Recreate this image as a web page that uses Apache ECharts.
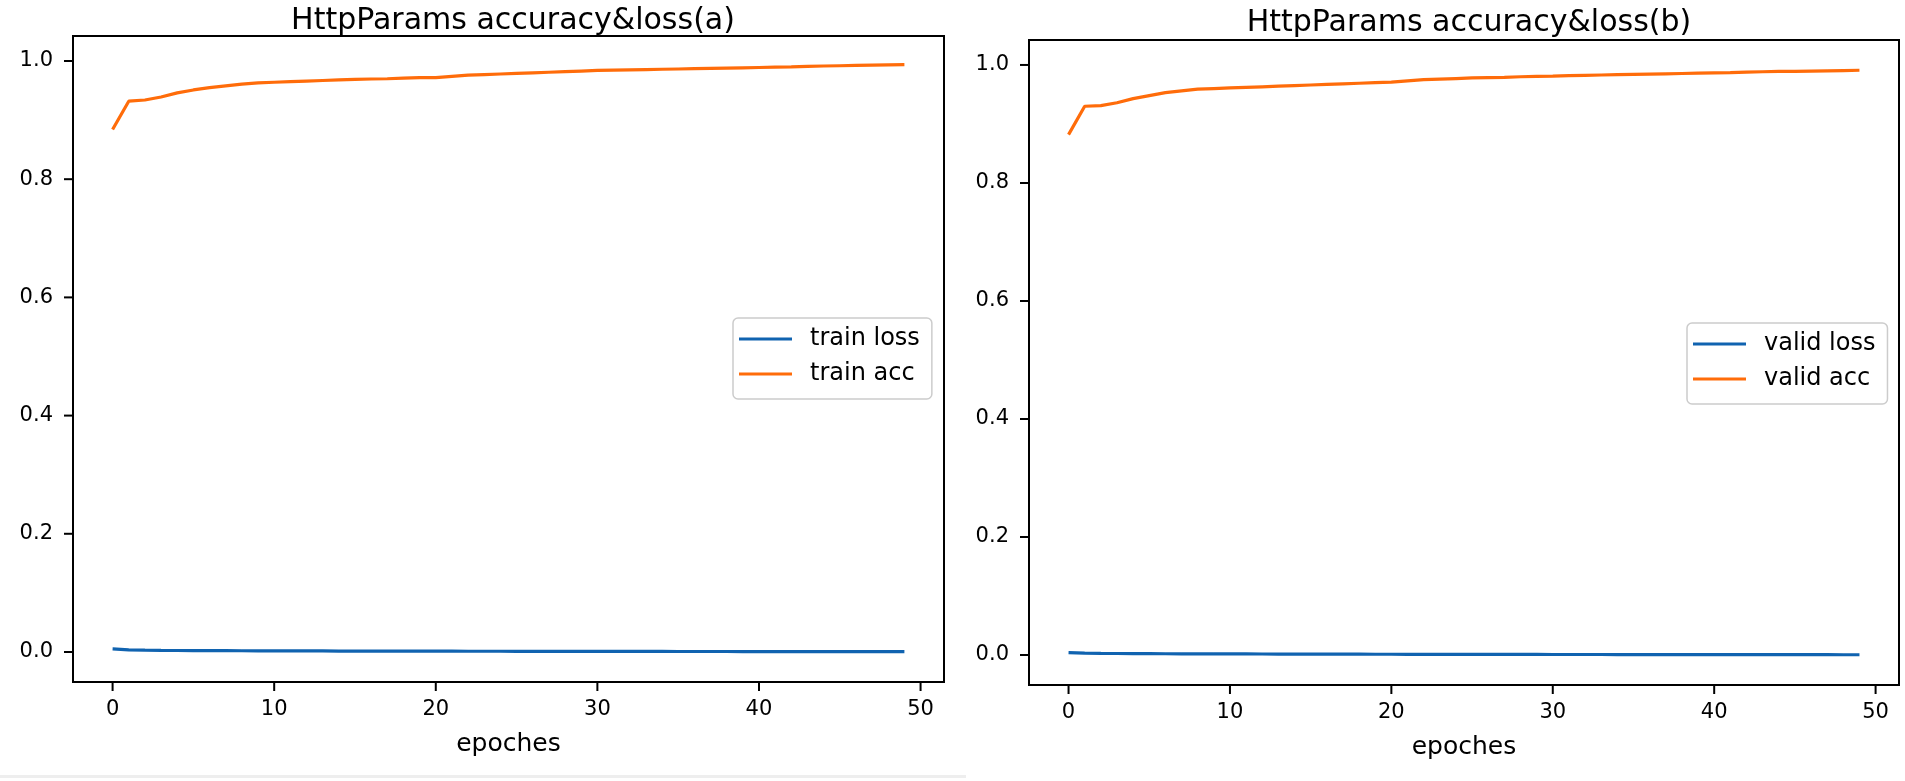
<!DOCTYPE html>
<html>
<head>
<meta charset="utf-8">
<script src="https://cdn.jsdelivr.net/npm/echarts@6/dist/echarts.min.js"></script>
<style>
html,body{margin:0;padding:0;background:#fff;}
#chart{width:1905px;height:781px;}
</style>
</head>
<body>
<div id="chart"></div>
<script>
const epochs = [0,1,2,3,4,5,6,7,8,9,10,11,12,13,14,15,16,17,18,19,20,21,22,23,24,25,26,27,28,29,30,31,32,33,34,35,36,37,38,39,40,41,42,43,44,45,46,47,48,49];
const xTicks = [0,10,20,30,40,50];
const yTicks = [0.0,0.2,0.4,0.6,0.8,1.0];

const trainLoss = [0.0052,0.0036,0.0030,0.0027,0.0025,0.0024,0.0023,0.0022,0.0021,0.0020,0.0019,0.0018,0.0018,0.0017,0.0016,0.0016,0.0015,0.0015,0.0014,0.0014,0.0013,0.0013,0.0012,0.0012,0.0012,0.0011,0.0011,0.0011,0.0010,0.0010,0.0010,0.0009,0.0009,0.0009,0.0009,0.0008,0.0008,0.0008,0.0008,0.0007,0.0007,0.0007,0.0007,0.0007,0.0006,0.0006,0.0006,0.0006,0.0006,0.0005];
const trainAcc = [0.884,0.932,0.934,0.939,0.946,0.951,0.955,0.958,0.961,0.963,0.964,0.965,0.966,0.967,0.968,0.969,0.9695,0.970,0.971,0.972,0.972,0.974,0.976,0.977,0.978,0.979,0.980,0.981,0.982,0.983,0.984,0.9845,0.985,0.9855,0.986,0.9865,0.987,0.9875,0.988,0.9885,0.989,0.9895,0.990,0.991,0.9915,0.992,0.9925,0.993,0.9935,0.994];
const validLoss = [0.0042,0.0032,0.0028,0.0026,0.0024,0.0023,0.0022,0.0021,0.0020,0.0019,0.0018,0.0018,0.0017,0.0016,0.0016,0.0015,0.0015,0.0014,0.0014,0.0013,0.0013,0.0012,0.0012,0.0012,0.0011,0.0011,0.0011,0.0010,0.0010,0.0010,0.0009,0.0009,0.0009,0.0009,0.0008,0.0008,0.0008,0.0008,0.0007,0.0007,0.0007,0.0007,0.0007,0.0006,0.0006,0.0006,0.0006,0.0006,0.0005,0.0005];
const validAcc = [0.882,0.930,0.931,0.936,0.943,0.948,0.953,0.956,0.959,0.960,0.961,0.962,0.963,0.964,0.965,0.966,0.967,0.968,0.969,0.970,0.971,0.973,0.975,0.976,0.977,0.978,0.9785,0.979,0.980,0.9805,0.981,0.982,0.9825,0.983,0.9835,0.984,0.9845,0.985,0.9855,0.986,0.9865,0.987,0.988,0.9885,0.989,0.989,0.9895,0.990,0.9905,0.991];

const titles = ['HttpParams accuracy&loss(a)', 'HttpParams accuracy&loss(b)'];
const xName = 'epoches';
const names = [['train loss','train acc'],['valid loss','valid acc']];

const FONT = 'DejaVu Sans';
const BLUE = '#1063b0';
const ORANGE = '#ff6c0a';
const TICK_LEN = 9;
const TICK_COLOR = '#000000';

const grids = [
  {left:73, top:36, width:871, height:646},
  {left:1029, top:40, width:870, height:645}
];

function pairs(arr){ return arr.map((v,i)=>[epochs[i], v]); }

function xAxis(i){
  return {
    type:'value', gridIndex:i, min:-2.45, max:51.45,
    name:xName, nameLocation:'middle', nameGap:50,
    nameTextStyle:{fontFamily:FONT, fontSize:25, color:'#000'},
    axisLine:{show:false, onZero:false},
    splitLine:{show:false},
    axisTick:{show:false},
    axisLabel:{fontFamily:FONT, fontSize:21, color:'#000', margin:17, customValues:xTicks, formatter:v=>String(v)}
  };
}
function yAxis(i){
  return {
    type:'value', gridIndex:i, min:-0.0508, max:1.0423,
    axisLine:{show:false, onZero:false},
    splitLine:{show:false},
    axisTick:{show:false},
    axisLabel:{fontFamily:FONT, fontSize:21, color:'#000', margin:20, customValues:yTicks, formatter:v=>v.toFixed(1)}
  };
}
function legend(i, left, top){
  return {
    data:names[i], orient:'vertical', left:left, top:top,
    padding:[6,12,10,6], itemWidth:53, itemHeight:3, itemGap:5, icon:'rect',
    borderColor:'#cccccc', borderWidth:1.5, borderRadius:5, backgroundColor:'rgba(255,255,255,0.8)',
    textStyle:{fontFamily:FONT, fontSize:24, color:'#000', lineHeight:30, padding:[0,0,0,13]},
    selectedMode:false
  };
}
function line(name, data, i, color){
  return {
    name:name, type:'line', xAxisIndex:i, yAxisIndex:i, data:pairs(data),
    showSymbol:false, symbol:'none', smooth:false, animation:false,
    lineStyle:{color:color, width:3.2}, itemStyle:{color:color}
  };
}
// outward tick marks positioned through the axes' own scales
function xTickSeries(i){
  return {
    type:'custom', xAxisIndex:i, yAxisIndex:i, silent:true, animation:false, clip:false, z:10,
    data:xTicks.map(v=>[v, 0]),
    renderItem:(params, api)=>{
      const cs = params.coordSys;
      const p = api.coord([api.value(0), api.value(1)]);
      const yb = cs.y + cs.height;
      return {type:'line', shape:{x1:p[0], y1:yb, x2:p[0], y2:yb + TICK_LEN}, style:{stroke:TICK_COLOR, lineWidth:2}};
    }
  };
}
function yTickSeries(i){
  return {
    type:'custom', xAxisIndex:i, yAxisIndex:i, silent:true, animation:false, clip:false, z:10,
    data:yTicks.map(v=>[0, v]),
    renderItem:(params, api)=>{
      const cs = params.coordSys;
      const p = api.coord([api.value(0), api.value(1)]);
      return {type:'line', shape:{x1:cs.x - TICK_LEN, y1:p[1], x2:cs.x, y2:p[1]}, style:{stroke:TICK_COLOR, lineWidth:2}};
    }
  };
}

const option = {
  animation:false,
  backgroundColor:'#fff',
  title: [
    {text:titles[0], left:508, top:1, textAlign:'center', textStyle:{fontFamily:FONT, fontSize:30, fontWeight:'normal', color:'#000'}},
    {text:titles[1], left:1464, top:3, textAlign:'center', textStyle:{fontFamily:FONT, fontSize:30, fontWeight:'normal', color:'#000'}}
  ],
  grid: grids.map(g=>Object.assign({show:true, borderColor:'#000', borderWidth:2, backgroundColor:'transparent'}, g)),
  xAxis:[xAxis(0), xAxis(1)],
  yAxis:[yAxis(0), yAxis(1)],
  legend:[legend(0, 733, 318), legend(1, 1687, 323)],
  series:[
    line(names[0][0], trainLoss, 0, BLUE),
    line(names[0][1], trainAcc, 0, ORANGE),
    line(names[1][0], validLoss, 1, BLUE),
    line(names[1][1], validAcc, 1, ORANGE),
    xTickSeries(0), yTickSeries(0), xTickSeries(1), yTickSeries(1)
  ],
  graphic:[
    {type:'rect', shape:{x:0, y:775, width:966, height:3}, style:{fill:'#eeeeee'}, silent:true}
  ]
};

const chart = echarts.init(document.getElementById('chart'), null, {renderer:'canvas'});
chart.setOption(option);
</script>
</body>
</html>
